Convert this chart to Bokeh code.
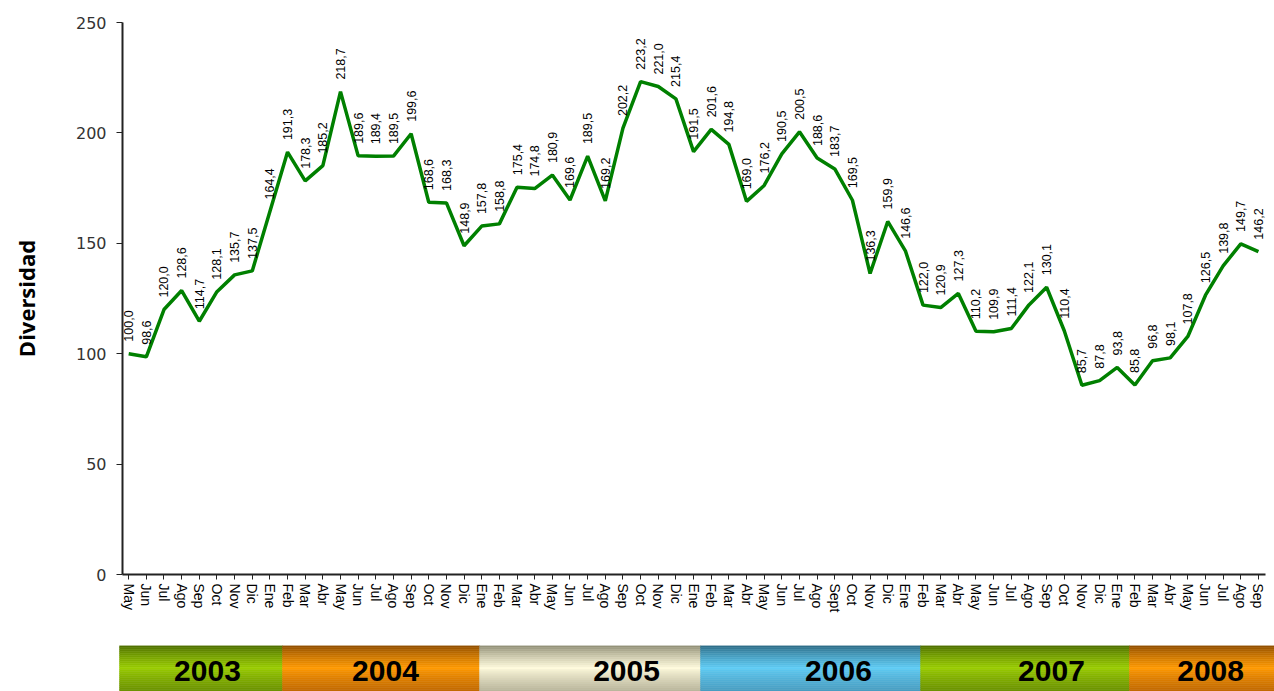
import math
from bokeh.plotting import figure
from bokeh.models import FixedTicker, ColumnDataSource, Range1d
from bokeh.core.properties import value
from bokeh.embed import file_html
from bokeh.resources import INLINE

# ---- data ----
months = ["May", "Jun", "Jul", "Ago", "Sep", "Oct", "Nov", "Dic",
          "Ene", "Feb", "Mar", "Abr", "May", "Jun", "Jul", "Ago", "Sep", "Oct", "Nov", "Dic",
          "Ene", "Feb", "Mar", "Abr", "May", "Jun", "Jul", "Ago", "Sep", "Oct", "Nov", "Dic",
          "Ene", "Feb", "Mar", "Abr", "May", "Jun", "Jul", "Ago", "Sept", "Oct", "Nov", "Dic",
          "Ene", "Feb", "Mar", "Abr", "May", "Jun", "Jul", "Ago", "Sep", "Oct", "Nov", "Dic",
          "Ene", "Feb", "Mar", "Abr", "May", "Jun", "Jul", "Ago", "Sep"]
diversidad = [100.0, 98.6, 120.0, 128.6, 114.7, 128.1, 135.7, 137.5,
              164.4, 191.3, 178.3, 185.2, 218.7, 189.6, 189.4, 189.5, 199.6, 168.6, 168.3, 148.9,
              157.8, 158.8, 175.4, 174.8, 180.9, 169.6, 189.5, 169.2, 202.2, 223.2, 221.0, 215.4,
              191.5, 201.6, 194.8, 169.0, 176.2, 190.5, 200.5, 188.6, 183.7, 169.5, 136.3, 159.9,
              146.6, 122.0, 120.9, 127.3, 110.2, 109.9, 111.4, 122.1, 130.1, 110.4, 85.7, 87.8,
              93.8, 85.8, 96.8, 98.1, 107.8, 126.5, 139.8, 149.7, 146.2]
years = ["2003", "2004", "2005", "2006", "2007", "2008"]
# year strip extents, in month-index units of the main axis
year_start = [-0.51, 8.72, 19.88, 32.39, 44.85, 56.68]
year_end = [8.72, 19.88, 32.39, 44.85, 56.68, 65.5]
year_label_pos = [4.47, 14.55, 28.2, 40.2, 52.26, 61.27]
y_ticks = [0, 50, 100, 150, 200, 250]

idx = list(range(len(months)))
labels = [f"{v:.1f}".replace(".", ",") for v in diversidad]

W = 1266
# ---- main chart ----
p = figure(width=W, height=645, output_backend="svg", toolbar_location=None,
           x_range=Range1d(-0.35, 64.4), y_range=Range1d(0, 250),
           min_border_left=122, min_border_right=1, min_border_top=22, min_border_bottom=71)
p.outline_line_color = None
p.xgrid.visible = False
p.ygrid.visible = False

src = ColumnDataSource(dict(x=idx, y=diversidad, t=labels))
p.line("x", "y", source=src, line_color="#008000", line_width=3.5)
p.text("x", "y", text="t", source=src, angle=math.pi / 2, text_align="left",
       text_baseline="middle", y_offset=-12, text_font=value("Liberation Sans"),
       text_font_size="12.5px", text_color="black")

xa = p.xaxis[0]
xa.ticker = FixedTicker(ticks=idx)
xa.major_label_overrides = {i: m for i, m in enumerate(months)}
xa.major_label_orientation = "vertical"
xa.major_label_text_font = "Liberation Sans"
xa.major_label_text_font_size = "14px"
xa.major_label_text_color = "black"
xa.major_tick_out = 5
xa.major_tick_in = 0
xa.minor_tick_line_color = None
xa.axis_line_width = 2
xa.axis_line_color = "#222222"
xa.major_tick_line_color = "#222222"
xa.major_label_standoff = 4

ya = p.yaxis[0]
ya.ticker = FixedTicker(ticks=y_ticks)
ya.major_label_text_font = "DejaVu Sans"
ya.major_label_text_font_size = "16px"
ya.major_label_text_color = "#333333"
ya.major_tick_out = 6
ya.major_tick_in = 0
ya.minor_tick_line_color = None
ya.axis_line_width = 2
ya.axis_line_color = "#222222"
ya.major_tick_line_color = "#222222"
ya.major_label_standoff = 10
ya.axis_label = "Diversidad"
ya.axis_label_text_font = "Open Sans"
ya.axis_label_text_font_style = "bold"
ya.axis_label_text_font_size = "22px"
ya.axis_label_text_color = "black"
ya.axis_label_standoff = 32

# ---- year strip ----
b = figure(width=1274, height=46, output_backend="svg", toolbar_location=None,
           x_range=Range1d(-7.25, 64.89), y_range=Range1d(0, 1),
           min_border_left=0, min_border_right=0, min_border_top=0, min_border_bottom=0)
b.axis.visible = False
b.xgrid.visible = False
b.ygrid.visible = False
b.outline_line_color = None

palettes = {
    "green": ((0x4a, 0x6a, 0x00), (0x99, 0xcc, 0x00), (0x6a, 0x90, 0x00)),
    "orange": ((0x8a, 0x4a, 0x00), (0xff, 0x99, 0x00), (0xc0, 0x68, 0x00)),
    "cream": ((0x8a, 0x88, 0x70), (0xff, 0xfb, 0xdc), (0xb8, 0xb4, 0x9a)),
    "blue": ((0x2a, 0x66, 0x80), (0x5f, 0xcc, 0xf5), (0x48, 0x9c, 0xc0)),
}
band_style = ["green", "orange", "cream", "blue", "green", "orange"]


def grad(top, mid, bot, t):
    if t < 0.5:
        a, c, s = top, mid, t / 0.5
    else:
        a, c, s = mid, bot, (t - 0.5) / 0.5
    s = s ** 0.8
    return "#%02x%02x%02x" % tuple(int(a[k] + (c[k] - a[k]) * s) for k in range(3))


n = 23
L, R, T, B, C = [], [], [], [], []
for i in range(len(years)):
    top, mid, bot = palettes[band_style[i]]
    for j in range(n):
        L.append(year_start[i])
        R.append(year_end[i])
        T.append(1 - j / n)
        B.append(1 - (j + 1) / n)
        C.append(grad(top, mid, bot, (j + 0.5) / n))
b.quad(left=L, right=R, top=T, bottom=B, fill_color=C, line_color=C, line_width=0.5)
b.text(x=year_label_pos, y=[0.45] * len(years), text=years, text_align="center",
       text_baseline="middle", text_font=value("Liberation Sans"), text_font_style="bold",
       text_font_size="30px", text_color="black")

open("out.html", "w").write(file_html([p, b], INLINE))
